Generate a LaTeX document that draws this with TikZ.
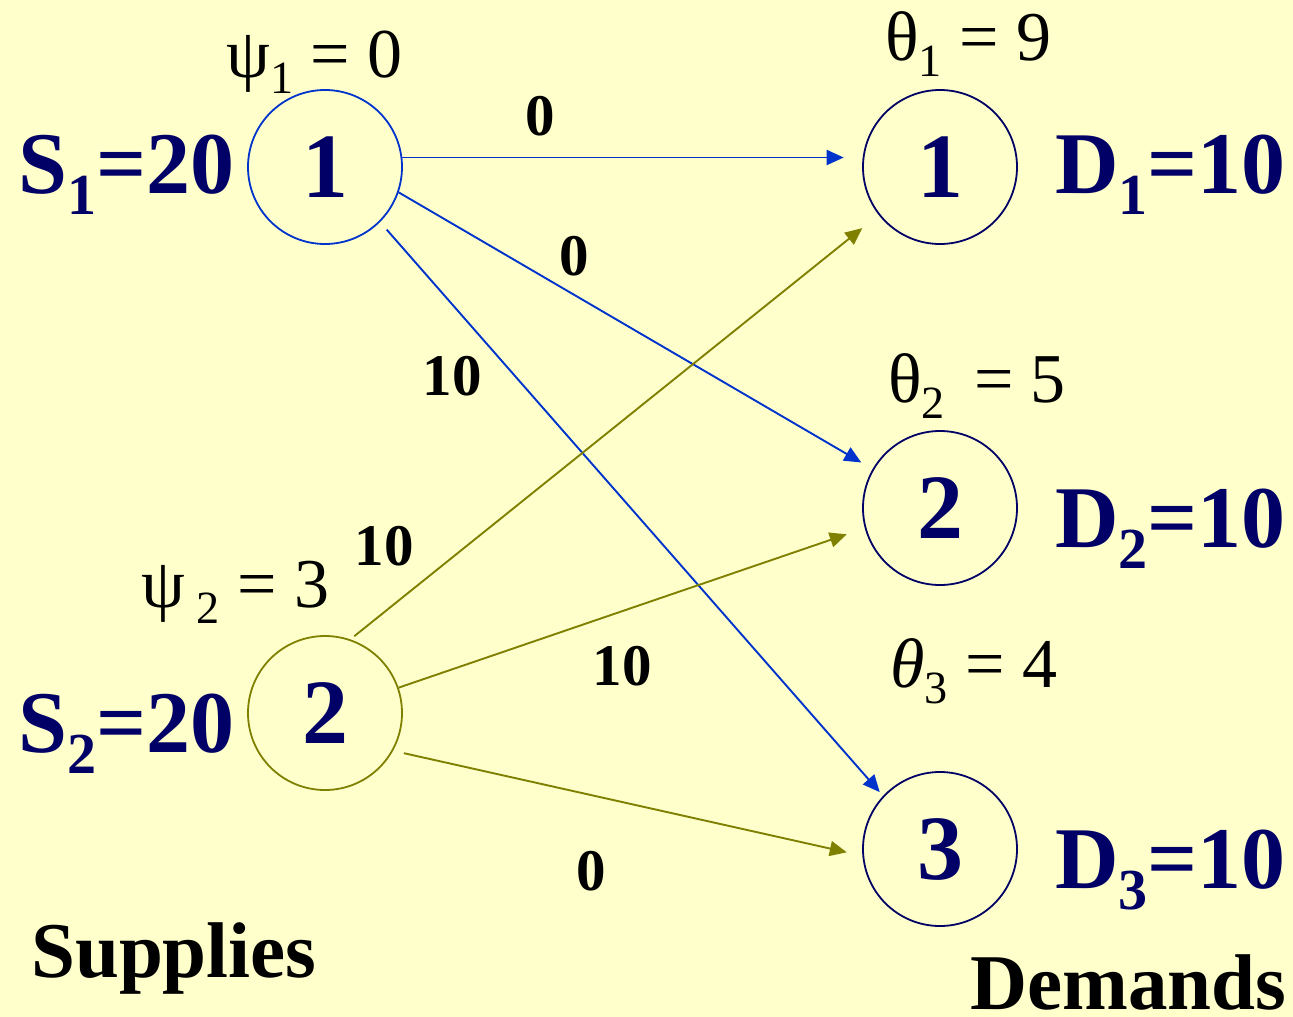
\documentclass[tikz,border=0pt]{standalone}
\usepackage{fontspec}
\setmainfont{Liberation Serif}
\usepackage{graphicx}
\usetikzlibrary{arrows.meta}
\definecolor{paper}{HTML}{FFFFCC}
\definecolor{navy}{HTML}{000066}
\definecolor{srcblue}{HTML}{0033CC}
\definecolor{srcolive}{HTML}{808000}
\newcommand{\lsub}[1]{\raisebox{-0.24em}{\scalebox{0.66}{#1}}}

\begin{document}
\begin{tikzpicture}[x=1pt,y=-1pt,
  station/.style={circle,draw=#1,line width=1.8pt,minimum size=154pt,inner sep=0pt,
    text=navy,font=\fontsize{92}{92}\selectfont\bfseries},
  amount/.style={text=navy,font=\fontsize{88}{88}\selectfont\bfseries,inner sep=0pt},
  pot/.style={font=\fontsize{70}{70}\selectfont,inner sep=0pt,anchor=base west},
  cost/.style={font=\fontsize{59}{59}\selectfont\bfseries,inner sep=0pt,anchor=base},
  heading/.style={font=\fontsize{79}{79}\selectfont\bfseries,inner sep=0pt,anchor=base west},
  flow/.style={draw=#1,line width=1.9pt,-{Triangle[length=17pt,width=15pt]}}]
  \fill[paper] (0,0) rectangle (1293,1017);
  \useasboundingbox (0,0) rectangle (1293,1017);

  % supply and demand nodes
  \node[station=srcblue] (s1) at (325,167) {1};
  \node[station=srcolive] (s2) at (325,713) {2};
  \node[station=navy] (d1) at (940,167) {1};
  \node[station=navy] (d2) at (940,508) {2};
  \node[station=navy] (d3) at (940,849) {3};

  \node[amount,anchor=base east] (s1amt) at (235,193) {S\lsub{1}=20};
  \node[amount,anchor=base east] (s2amt) at (235,752) {S\lsub{2}=20};
  \node[amount,anchor=base west] (d1amt) at (1055,193) {D\lsub{1}=10};
  \node[amount,anchor=base west] (d2amt) at (1055,547) {D\lsub{2}=10};
  \node[amount,anchor=base west] (d3amt) at (1055,888) {D\lsub{3}=10};

  % potentials
  \node[pot] (psi1) at (226,77) {ψ\lsub{1} = 0};
  \node[pot] (psi2) at (141,607) {ψ\,\lsub{2} = 3};
  \node[pot] (th1) at (885,60) {θ\lsub{1} = 9};
  \node[pot] (th2) at (888,402) {θ\lsub{2} \,= 5};
  \node[pot] (th3) at (890,687) {\textit{θ}\lsub{3} = 4};

  % arcs
  \draw[flow=srcblue,shorten >=19pt] (s1.7) -- (d1.173);
  \draw[flow=srcblue,shorten >=13pt] (s1.-19) -- (d2.150);
  \draw[flow=srcblue,shorten <=10pt,shorten >=5pt] (s1.-45) -- (d3.137);
  \draw[flow=srcolive,shorten <=5pt,shorten >=21pt] (s2.71) -- (d1.218);
  \draw[flow=srcolive,shorten >=19pt] (s2.19) -- (d2.195);
  \draw[flow=srcolive,shorten <=11pt,shorten >=16pt] (s2.-29) -- (d3.185);

  % costs
  \node[cost] (c11) at (540,135) {0};
  \node[cost] (c12) at (574,275) {0};
  \node[cost] (c13) at (452,395) {10};
  \node[cost] (c21) at (384,565) {10};
  \node[cost] (c22) at (622,685) {10};
  \node[cost] (c23) at (591,890) {0};

  \node[heading] (sup) at (31,977) {Supplies};
  \node[heading] (dem) at (970,1009) {Demands};
\end{tikzpicture}
\end{document}
